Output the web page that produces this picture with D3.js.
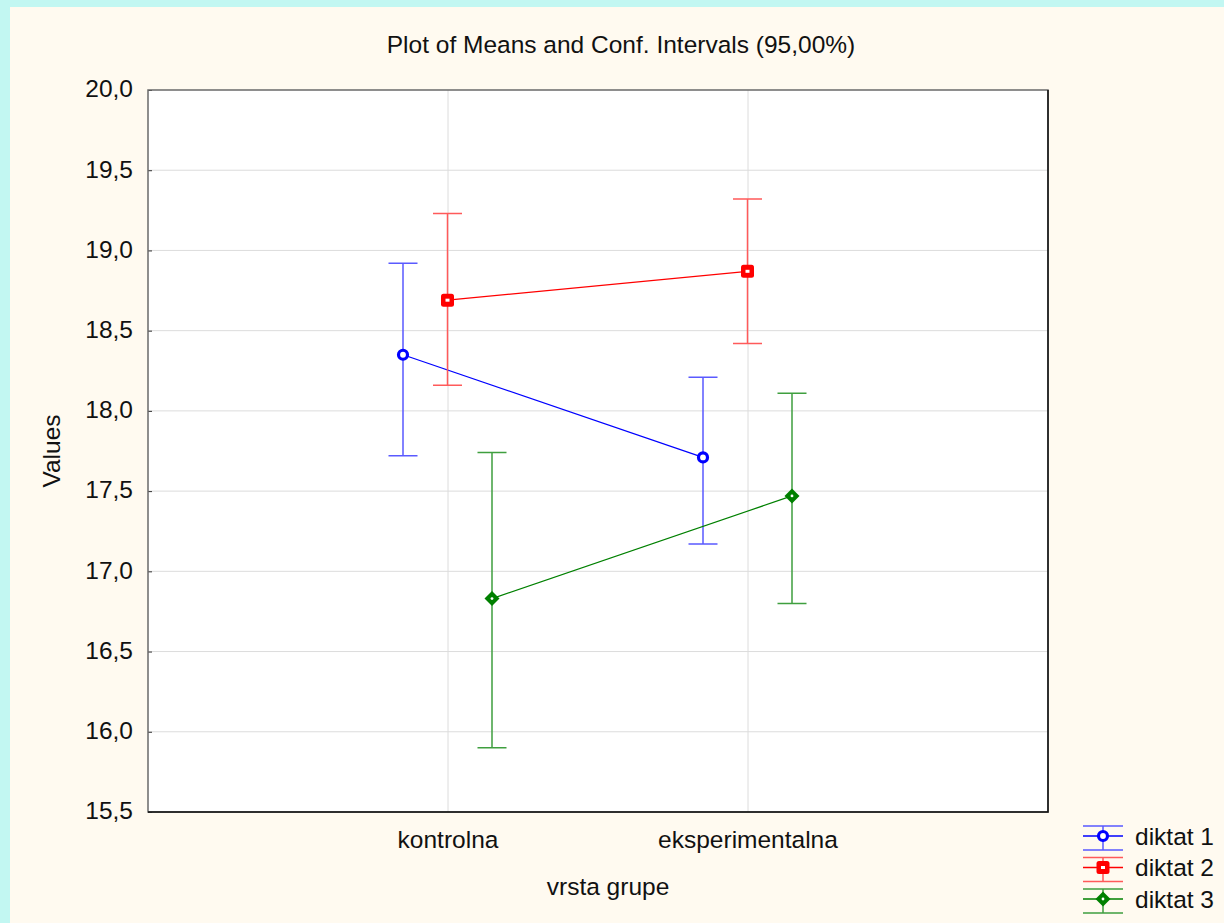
<!DOCTYPE html>
<html>
<head>
<meta charset="utf-8">
<script src="https://cdn.jsdelivr.net/npm/d3@7"></script>
<style>
  body { margin: 0; background: #fffaf0; }
  svg { display: block; font-family: "Liberation Sans", Arial, sans-serif; }
</style>
</head>
<body>
<div class="canvas"></div>
<script>
// data
const categories = ['kontrolna', 'eksperimentalna'];
const seriesNames = ['diktat 1', 'diktat 2', 'diktat 3'];
const means = [[18.35, 17.71], [18.69, 18.87], [16.83, 17.47]];
const upper = [[18.92, 18.21], [19.23, 19.32], [17.74, 18.11]];
const lower = [[17.72, 17.17], [18.16, 18.42], [15.90, 16.80]];
const yTicks = [15.5, 16, 16.5, 17, 17.5, 18, 18.5, 19, 19.5, 20];

const lineColors = ['#0000ff', '#ff0000', '#008000'];
const barColors = ['#5a5aff', '#ff5a5a', '#3f9f3f'];
const markers = ['circle', 'square', 'diamond'];

const width = 1224, height = 923;
const margin = {top: 90, right: 176, bottom: 111, left: 148};
const graphWidth = width - margin.left - margin.right;
const graphHeight = height - margin.top - margin.bottom;

const svg = d3.select('.canvas')
    .append('svg')
        .attr('width', width)
        .attr('height', height);

// background
svg.append('rect').attr('width', width).attr('height', height).attr('fill', '#fffaf0');
svg.append('rect').attr('width', width).attr('height', 7).attr('fill', '#c2f7f2');
svg.append('rect').attr('width', 10).attr('height', height).attr('fill', '#c2f7f2');

const graph = svg.append('g')
    .attr('transform', `translate(${margin.left}, ${margin.top})`);

// scales
const x = d3.scalePoint()
    .domain(categories)
    .range([0, graphWidth])
    .padding(1);

const offset = d3.scalePoint()
    .domain(seriesNames)
    .range([-45, 44]);

const y = d3.scaleLinear()
    .domain([15.5, 20])
    .range([graphHeight, 0]);

const fmt = d => d3.format('.1f')(d).replace('.', ',');

// plot area
graph.append('rect')
    .attr('width', graphWidth)
    .attr('height', graphHeight)
    .attr('fill', '#fff');

// grid
graph.append('g')
    .selectAll('line')
    .data(yTicks.slice(1, -1))
    .join('line')
        .attr('x1', 0).attr('x2', graphWidth)
        .attr('y1', d => y(d)).attr('y2', d => y(d))
        .attr('stroke', '#dcdcdc');

graph.append('g')
    .selectAll('line')
    .data(categories)
    .join('line')
        .attr('x1', d => x(d)).attr('x2', d => x(d))
        .attr('y1', 0).attr('y2', graphHeight)
        .attr('stroke', '#dcdcdc');

// axes
const yAxis = d3.axisRight(y)
    .tickValues(yTicks)
    .tickSize(4)
    .tickFormat('');
graph.append('g').call(yAxis)
    .call(g => g.select('.domain').remove())
    .selectAll('line').attr('stroke', '#333');

graph.append('g')
    .selectAll('text')
    .data(yTicks)
    .join('text')
        .attr('x', -15)
        .attr('y', d => y(d))
        .attr('dy', '0.3em')
        .attr('text-anchor', 'end')
        .attr('font-size', 24.5)
        .attr('fill', '#111')
        .text(fmt);

graph.append('g')
    .selectAll('text')
    .data(categories)
    .join('text')
        .attr('x', d => x(d))
        .attr('y', graphHeight + 36)
        .attr('text-anchor', 'middle')
        .attr('font-size', 24.5)
        .attr('fill', '#111')
        .text(d => d);

// frame
graph.append('rect')
    .attr('width', graphWidth)
    .attr('height', graphHeight)
    .attr('fill', 'none')
    .attr('stroke', '#6a6a6a')
    .attr('stroke-width', 1.5);
graph.append('path')
    .attr('d', `M${graphWidth},0V${graphHeight}H0`)
    .attr('fill', 'none')
    .attr('stroke', '#111')
    .attr('stroke-width', 1.5);

// titles
svg.append('text')
    .attr('x', margin.left + graphWidth / 2 + 23)
    .attr('y', 53)
    .attr('text-anchor', 'middle')
    .attr('font-size', 24.5)
    .attr('fill', '#111')
    .text('Plot of Means and Conf. Intervals (95,00%)');

svg.append('text')
    .attr('x', 608)
    .attr('y', 895)
    .attr('text-anchor', 'middle')
    .attr('font-size', 24.5)
    .attr('fill', '#111')
    .text('vrsta grupe');

svg.append('text')
    .attr('transform', `translate(60, ${margin.top + graphHeight / 2}) rotate(-90)`)
    .attr('text-anchor', 'middle')
    .attr('font-size', 24.5)
    .attr('fill', '#111')
    .text('Values');

// marker drawing
const drawMarker = (g, type, color) => {
    if (type === 'circle') {
        g.append('circle').attr('r', 4.5)
            .attr('fill', '#fff').attr('stroke', color).attr('stroke-width', 3.2);
    } else if (type === 'square') {
        g.append('rect').attr('x', -6.5).attr('y', -6.5).attr('width', 13).attr('height', 13)
            .attr('rx', 2.5).attr('fill', color);
        g.append('rect').attr('x', -2).attr('y', -1.5).attr('width', 4).attr('height', 3)
            .attr('fill', '#fff');
    } else {
        g.append('path').attr('d', 'M0,-7.5L7.5,0L0,7.5L-7.5,0Z').attr('fill', color);
        g.append('circle').attr('r', 1.4).attr('fill', '#fff');
    }
};

const capHalf = 14.5;

seriesNames.forEach((name, s) => {
    const pts = categories.map((c, i) => ({
        x: x(c) + offset(name),
        m: means[s][i], lo: lower[s][i], hi: upper[s][i]
    }));

    const g = graph.append('g');

    // error bars
    pts.forEach(p => {
        g.append('path')
            .attr('d', `M${p.x},${y(p.hi)}V${y(p.lo)}` +
                `M${p.x - capHalf},${y(p.hi)}H${p.x + capHalf}` +
                `M${p.x - capHalf},${y(p.lo)}H${p.x + capHalf}`)
            .attr('fill', 'none')
            .attr('stroke', barColors[s])
            .attr('stroke-width', 1.5);
    });

    // mean line
    g.append('path')
        .datum(pts)
        .attr('d', d3.line().x(d => d.x).y(d => y(d.m)))
        .attr('fill', 'none')
        .attr('stroke', lineColors[s])
        .attr('stroke-width', 1.2);

    pts.forEach(p => {
        const mg = g.append('g').attr('transform', `translate(${p.x}, ${y(p.m)})`);
        drawMarker(mg, markers[s], lineColors[s]);
    });
});

// legend
const legend = svg.append('g').attr('transform', 'translate(1083, 836)');
seriesNames.forEach((name, s) => {
    const row = legend.append('g').attr('transform', `translate(0, ${s * 31.5})`);
    row.append('path')
        .attr('d', 'M0,-10H40M0,14H40M20,-10V14')
        .attr('stroke', barColors[s])
        .attr('stroke-width', 1.5)
        .attr('fill', 'none');
    row.append('path')
        .attr('d', 'M0,0H40')
        .attr('stroke', lineColors[s])
        .attr('stroke-width', 1.3);
    const mg = row.append('g').attr('transform', 'translate(20, 0)');
    drawMarker(mg, markers[s], lineColors[s]);
    row.append('text')
        .attr('x', 52)
        .attr('y', 0)
        .attr('dy', '0.35em')
        .attr('font-size', 24.5)
        .attr('fill', '#111')
        .text(name);
});
</script>
</body>
</html>
